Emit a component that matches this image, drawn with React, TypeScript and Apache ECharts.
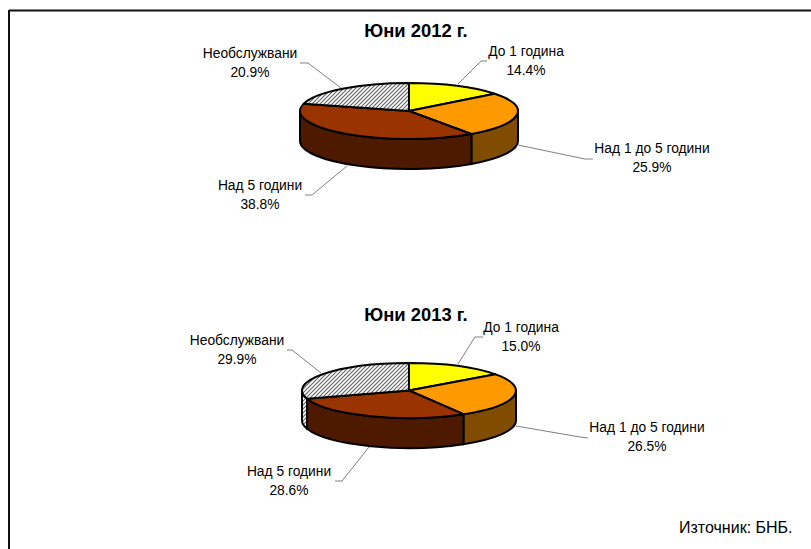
import React, { useEffect, useRef } from "react";
import * as echarts from "echarts";

const categories = ["До 1 година", "Над 1 до 5 години", "Над 5 години", "Необслужвани"];
const shares2012 = [14.4, 25.9, 38.8, 20.9];
const shares2013 = [15.0, 26.5, 28.6, 29.9];
const titles = ["Юни 2012 г.", "Юни 2013 г."];
const sourceNote = "Източник: БНБ.";

const topColors = ["#FFFF00", "#FF9900", "#993300", "hatch"];
const wallColors = ["#808000", "#804D00", "#4D1A00", "hatch"];
const FONT = '"Liberation Sans", Arial, sans-serif';

const layout2012 = {
  cx: 409, cy: 111, rx: 109, ry: 28, depth: 30,
  labels: [[526, 61], [652, 157.5], [260, 195], [250, 62.5]],
  leaders: [
    [[487, 61], [481, 61], [458, 84]],
    [[593, 159], [585, 159], [518, 145]],
    [[305, 195], [312, 195], [347, 166]],
    [[300, 63], [308, 63], [341, 88]],
  ],
};
const layout2013 = {
  cx: 409, cy: 390.5, rx: 107, ry: 27.5, depth: 30,
  labels: [[521, 336.5], [647, 436.5], [289, 480.5], [237, 350]],
  leaders: [
    [[483, 337], [475, 337], [458, 364]],
    [[588, 438], [580, 437], [516, 426]],
    [[335, 481], [342, 481], [369, 447]],
    [[287, 350], [292, 350], [321, 373]],
  ],
};

function hatchPattern() {
  const size = 4;
  const c = document.createElement("canvas");
  c.width = size;
  c.height = size;
  const g = c.getContext("2d")!;
  g.fillStyle = "#ffffff";
  g.fillRect(0, 0, size, size);
  g.strokeStyle = "#666666";
  g.lineWidth = 1.2;
  g.beginPath();
  g.moveTo(-1, 1);
  g.lineTo(1, -1);
  g.moveTo(-1, size + 1);
  g.lineTo(size + 1, -1);
  g.moveTo(size - 1, size + 1);
  g.lineTo(size + 1, size - 1);
  g.stroke();
  return { image: c, repeat: "repeat" };
}

function pieSeries(shares: number[], L: typeof layout2012, hatch: any) {
  const total = shares.reduce((a, b) => a + b, 0);
  const pt = (deg: number, dy = 0) => {
    const r = (deg * Math.PI) / 180;
    return [L.cx + L.rx * Math.sin(r), L.cy - L.ry * Math.cos(r) + dy];
  };
  const fill = (c: string) => (c === "hatch" ? hatch : c);
  const edge = { stroke: "#000000", lineWidth: 2, lineJoin: "round" };

  return {
    type: "custom",
    coordinateSystem: "none",
    silent: true,
    data: shares.map((v) => [v]),
    renderItem: (params: any, api: any) => {
      const i = params.dataIndex;
      const value = api.value(0);
      const before = shares.slice(0, i).reduce((a, b) => a + b, 0);
      const a = (before / total) * 360;
      const b = ((before + value) / total) * 360;
      const children: any[] = [];

      const wa = Math.max(a, 90);
      const wb = Math.min(b, 270);
      if (wb > wa) {
        const p1 = pt(wa);
        const p2 = pt(wb);
        const q1 = pt(wa, L.depth);
        const q2 = pt(wb, L.depth);
        const d = `M${p1[0]} ${p1[1]} A${L.rx} ${L.ry} 0 0 1 ${p2[0]} ${p2[1]} L${q2[0]} ${q2[1]} A${L.rx} ${L.ry} 0 0 0 ${q1[0]} ${q1[1]} Z`;
        children.push({ type: "path", shape: { pathData: d }, style: { fill: fill(wallColors[i]), ...edge } });
      }

      const s = pt(a);
      const e = pt(b);
      const large = b - a > 180 ? 1 : 0;
      const top = `M${L.cx} ${L.cy} L${s[0]} ${s[1]} A${L.rx} ${L.ry} 0 ${large} 1 ${e[0]} ${e[1]} Z`;
      children.push({ type: "path", shape: { pathData: top }, style: { fill: fill(topColors[i]), ...edge } });

      children.push({
        type: "polyline",
        shape: { points: L.leaders[i] },
        style: { fill: "none", stroke: "#808080", lineWidth: 1 },
      });
      children.push({
        type: "text",
        style: {
          text: `${categories[i]}\n${value.toFixed(1)}%`,
          x: L.labels[i][0],
          y: L.labels[i][1],
          align: "center",
          verticalAlign: "middle",
          font: `13.8px ${FONT}`,
          lineHeight: 19,
          fill: "#000000",
        },
      });
      return { type: "group", children };
    },
  };
}

export default function App() {
  const ref = useRef<HTMLDivElement>(null);
  useEffect(() => {
    document.body.style.margin = "0";
    const chart = echarts.init(ref.current!, null, { renderer: "svg" });
    const hatch = hatchPattern();
    const titleStyle = { fontFamily: "Liberation Sans", fontSize: 18.4, fontWeight: "bold", color: "#000" };
    chart.setOption({
      animation: false,
      backgroundColor: "#ffffff",
      title: [
        { text: titles[0], left: 416, top: 21, textAlign: "center", padding: 0, textStyle: titleStyle },
        { text: titles[1], left: 416, top: 305, textAlign: "center", padding: 0, textStyle: titleStyle },
      ],
      series: [pieSeries(shares2012, layout2012, hatch), pieSeries(shares2013, layout2013, hatch)],
      graphic: [
        { type: "line", shape: { x1: 9, y1: 10.5, x2: 811, y2: 10.5 }, style: { stroke: "#111", lineWidth: 2 } },
        { type: "line", shape: { x1: 9, y1: 10, x2: 9, y2: 549 }, style: { stroke: "#111", lineWidth: 2 } },
        {
          type: "text",
          style: { text: sourceNote, x: 679, y: 527, verticalAlign: "middle", font: `16px ${FONT}`, fill: "#000" },
        },
      ],
    });
    return () => chart.dispose();
  }, []);
  return <div ref={ref} style={{ position: "fixed", left: 0, top: 0, width: 811, height: 549 }} />;
}
